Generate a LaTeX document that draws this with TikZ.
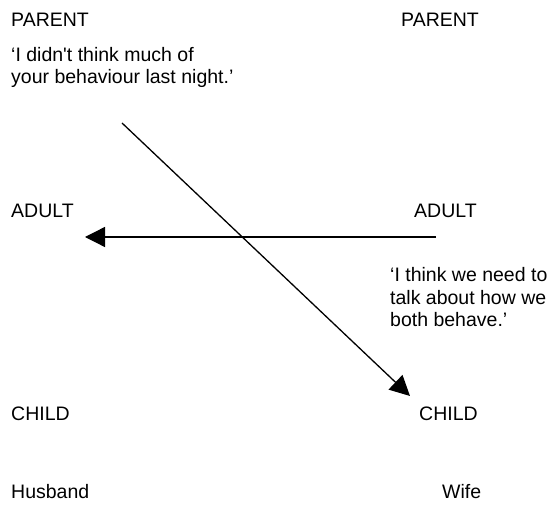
\documentclass[tikz,border=0pt]{standalone}
\usepackage{fontspec}
\setmainfont{Liberation Sans}
\usetikzlibrary{arrows.meta}

\begin{document}
\begin{tikzpicture}[x=1pt,y=-1pt,
  lbl/.style={anchor=base west,inner sep=0pt,font=\fontsize{19.5}{22.5}\selectfont},
  said/.style={lbl,align=left},
  msg/.style={-{Triangle[length=20pt,width=20pt]},line width=1.3pt}]
\useasboundingbox (0,0) rectangle (550,505);
% husband side
\node[lbl] (parH) at (11,27) {PARENT};
\node[said] (sayH) at (11,84) {‘I didn\textquotesingle t think much of\\your behaviour last night.’};
\node[lbl] (adH) at (11,218) {ADULT};
\node[lbl] (chH) at (11,421) {CHILD};
\node[lbl] (husb) at (11,499) {Husband};
% wife side
\node[lbl] (parW) at (401,27) {PARENT};
\node[lbl] (adW) at (414,218) {ADULT};
\node[said] (sayW) at (390,327) {‘I think we need to\\talk about how we\\both behave.’};
\node[lbl] (chW) at (419,421) {CHILD};
\node[lbl] (wife) at (442,499) {Wife};
% transactions
\coordinate (fromW) at (436,237);
\coordinate (toH) at (85,237);
\draw[msg] (fromW) -- (toH);
\coordinate (fromH) at (122,123);
\coordinate (toW) at (410,396);
\draw[msg] (fromH) -- (toW);
\end{tikzpicture}
\end{document}
